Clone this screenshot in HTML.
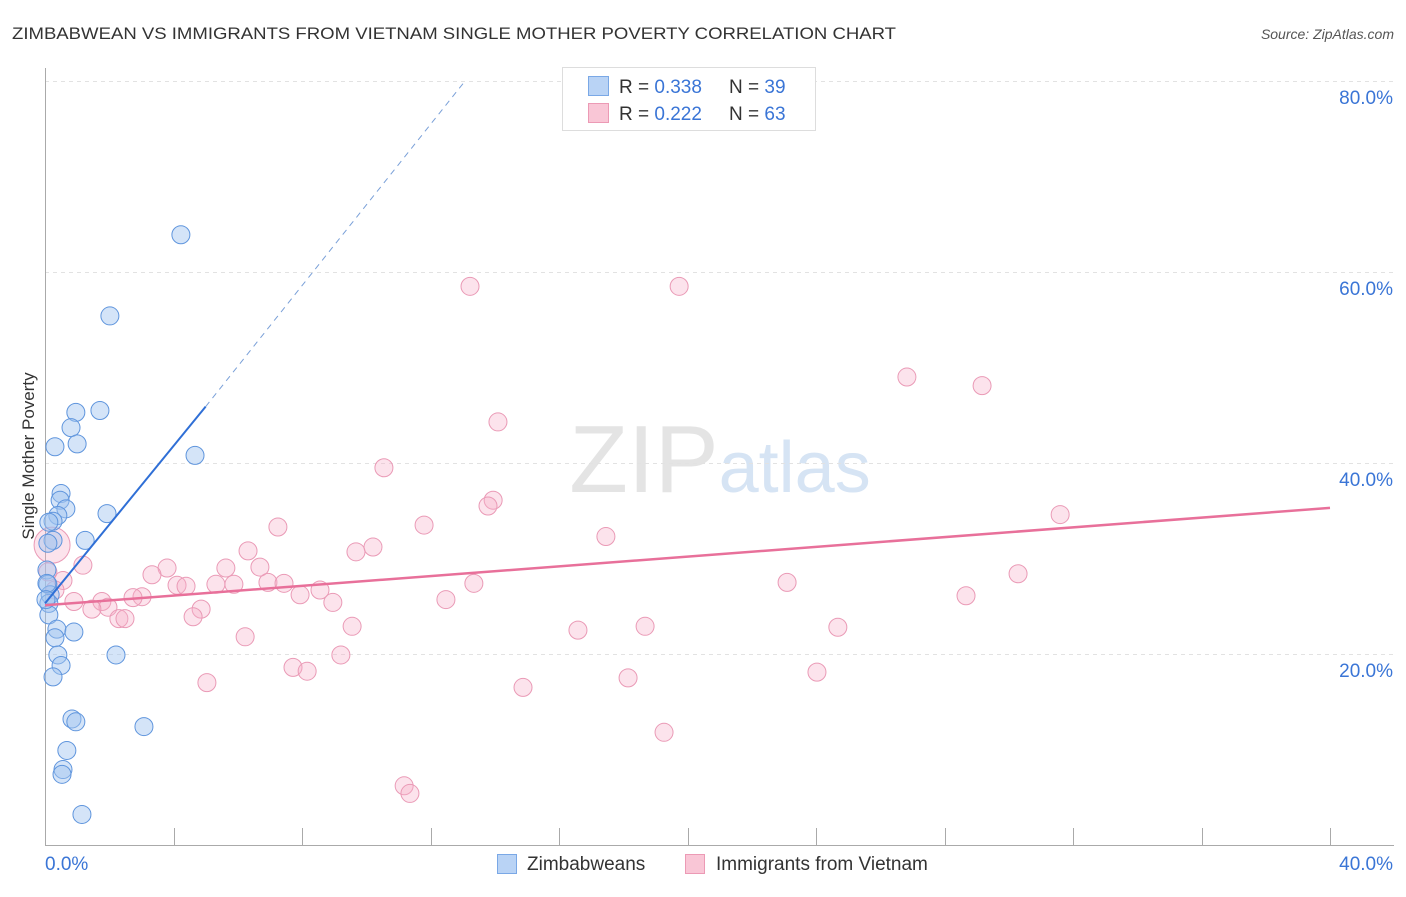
<!DOCTYPE html>
<html><head><meta charset="utf-8"><style>
body{margin:0;background:#fff;font-family:"Liberation Sans",sans-serif}
svg text{font-family:"Liberation Sans",sans-serif}
</style></head><body>
<svg id="chart" width="1406" height="892" xmlns="http://www.w3.org/2000/svg">
<text x="12" y="39" font-size="17" fill="#333" textLength="884" lengthAdjust="spacingAndGlyphs">ZIMBABWEAN VS IMMIGRANTS FROM VIETNAM SINGLE MOTHER POVERTY CORRELATION CHART</text>
<text x="1394" y="39" font-size="14" fill="#555" font-style="italic" text-anchor="end">Source: ZipAtlas.com</text>
<text x="34" y="456" font-size="17" fill="#333" text-anchor="middle" transform="rotate(-90 34 456)">Single Mother Poverty</text>
<text x="720" y="492" font-size="96" fill="#e4e4e4" text-anchor="middle" font-family="Liberation Serif">ZIP<tspan fill="#d6e4f4" font-family="Liberation Sans" font-size="72">atlas</tspan></text>
<g id="grid"></g><g id="axes"></g><g id="marks"></g>
<g>
<rect x="562.5" y="67.5" width="253" height="63" fill="#fff" stroke="#ddd"/>
<rect x="588.5" y="76.5" width="20" height="19" fill="#b9d3f5" stroke="#7aa8e6"/>
<rect x="588.5" y="103.5" width="20" height="19" fill="#f9c6d6" stroke="#ec9ab5"/>
<text x="619" y="93" font-size="19" fill="#333">R = <tspan fill="#3a75d6">0.338</tspan></text>
<text x="729" y="93" font-size="19" fill="#333">N = <tspan fill="#3a75d6">39</tspan></text>
<text x="619" y="120" font-size="19" fill="#333">R = <tspan fill="#3a75d6">0.222</tspan></text>
<text x="729" y="120" font-size="19" fill="#333">N = <tspan fill="#3a75d6">63</tspan></text>
</g>
<g>
<rect x="497.5" y="854.5" width="19" height="19" fill="#b9d3f5" stroke="#7aa8e6"/>
<text x="527" y="870" font-size="19" fill="#333">Zimbabweans</text>
<rect x="685.5" y="854.5" width="19" height="19" fill="#f9c6d6" stroke="#ec9ab5"/>
<text x="716" y="870" font-size="19" fill="#333">Immigrants from Vietnam</text>
</g>
</svg>
<script>
const yTicks=[20,40,60,80];
const yTickLabels=["20.0%","40.0%","60.0%","80.0%"];
const xTicks=[0,4,8,12,16,20,24,28,32,36,40];
const blueX=[4.23,2.02,0.96,1.71,0.81,0.31,1.00,4.67,0.50,0.47,0.65,0.40,1.93,0.25,0.12,0.25,1.25,0.06,0.09,0.16,0.12,0.12,0.37,0.90,0.31,0.40,0.50,2.21,0.25,0.84,0.96,3.08,0.68,0.56,0.53,1.15,0.06,0.09,0.03];
const blueY=[63.9,55.4,45.3,45.5,43.7,41.7,42.0,40.8,36.8,36.1,35.2,34.5,34.7,33.9,33.8,31.9,31.9,28.8,27.3,26.2,25.3,24.1,22.6,22.3,21.7,19.9,18.8,19.9,17.6,13.2,12.9,12.4,9.9,7.9,7.4,3.2,27.4,31.6,25.7];
const pinkX=[13.23,19.74,26.83,29.17,14.10,10.55,13.95,13.79,31.60,11.80,7.25,17.46,10.21,9.68,6.32,0.22,1.18,3.80,3.33,5.63,6.69,30.29,0.56,4.11,4.39,5.32,5.88,6.94,7.44,13.35,23.10,8.56,7.94,1.77,0.90,3.02,2.74,8.96,12.48,28.67,1.96,1.46,4.86,4.61,2.30,2.49,9.56,16.59,18.68,24.68,6.23,9.21,7.72,8.16,24.03,5.04,18.15,14.88,19.27,11.18,11.36,0.09,0.31];
const pinkY=[58.5,58.5,49.0,48.1,44.3,39.5,36.1,35.5,34.6,33.5,33.3,32.3,31.2,30.7,30.8,31.4,29.3,29.0,28.3,29.0,29.1,28.4,27.7,27.2,27.1,27.3,27.3,27.5,27.4,27.4,27.5,26.7,26.2,25.5,25.5,26.0,25.9,25.4,25.7,26.1,24.9,24.7,24.7,23.9,23.7,23.7,22.9,22.5,22.9,22.8,21.8,19.9,18.6,18.2,18.1,17.0,17.5,16.5,11.8,6.2,5.4,28.6,26.7];
const blueTrend=[0,25.3,5.0,45.9,13.1,80.1];
const pinkTrend=[0,25.1,40,35.3];
const NS="http://www.w3.org/2000/svg";
const sx=v=>45+v*32.125, sy=v=>845-v*9.55;
function mk(tag,attrs,parent){const e=document.createElementNS(NS,tag);for(const k in attrs)e.setAttribute(k,attrs[k]);document.getElementById(parent).appendChild(e);return e;}
yTicks.forEach((t,i)=>{
 const yy=Math.round(sy(t))+0.5;
 const g=mk('line',{x1:45,x2:1394,y1:yy,y2:yy,stroke:'#e2e2e2','stroke-dasharray':'4,4'},'grid');
 
 
 const l=mk('text',{x:1393,y:sy(t)+23,'font-size':19,fill:'#3a75d6','text-anchor':'end'},'axes');
 l.textContent=yTickLabels[i];
 
 
});
const ya=mk('line',{x1:45.5,x2:45.5,y1:68,y2:845,stroke:'#aaa'},'axes');


const xa=mk('line',{x1:45,x2:1394,y1:845.5,y2:845.5,stroke:'#aaa'},'axes');


xTicks.forEach(t=>{
 const k=mk('line',{x1:Math.round(sx(t))+0.5,x2:Math.round(sx(t))+0.5,y1:828,y2:845,stroke:'#aaa'},'axes');
 
 
});
const xl0=mk('text',{x:45,y:870,'font-size':19,fill:'#3a75d6'},'axes');xl0.textContent='0.0%';


const xl1=mk('text',{x:1393,y:870,'font-size':19,fill:'#3a75d6','text-anchor':'end'},'axes');xl1.textContent='40.0%';


pinkX.forEach((x,i)=>{
 const c=mk('circle',{cx:sx(x),cy:sy(pinkY[i]),r:i===15?18:9,fill:'rgba(246,176,200,0.35)',stroke:'#ea9ab6','stroke-width':1},'marks');
 
 
});
blueX.forEach((x,i)=>{
 const c=mk('circle',{cx:sx(x),cy:sy(blueY[i]),r:9,fill:'rgba(160,196,240,0.45)',stroke:'#5f95dd','stroke-width':1},'marks');
 
 
});
const bl=mk('line',{x1:sx(blueTrend[0]),y1:sy(blueTrend[1]),x2:sx(blueTrend[2]),y2:sy(blueTrend[3]),stroke:'#2f6fd6','stroke-width':2},'marks');


const bd=mk('line',{x1:sx(blueTrend[2]),y1:sy(blueTrend[3]),x2:sx(blueTrend[4]),y2:sy(blueTrend[5]),stroke:'#7aa0d8','stroke-width':1,'stroke-dasharray':'6,5'},'marks');


const pl=mk('line',{x1:sx(pinkTrend[0]),y1:sy(pinkTrend[1]),x2:sx(pinkTrend[2]),y2:sy(pinkTrend[3]),stroke:'#e8709a','stroke-width':2.5},'marks');


</script>
</body></html>
